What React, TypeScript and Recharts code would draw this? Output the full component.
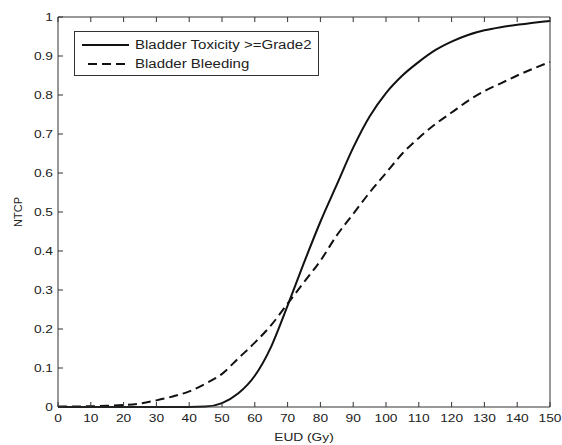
import { LineChart, Line, XAxis, YAxis, Label } from "recharts";

// EUD (Gy) sample points
const eud = [0, 5, 10, 15, 20, 25, 30, 35, 40, 45, 50, 55, 60, 65, 70, 75, 80, 85, 90, 95, 100, 105, 110, 115, 120, 125, 130, 135, 140, 145, 150];

// NTCP, bladder toxicity >= grade 2 (solid)
const toxicity = [0, 0, 0, 0, 0, 0, 0, 0, 0, 0.001, 0.01, 0.035, 0.08, 0.155, 0.26, 0.37, 0.475, 0.57, 0.665, 0.745, 0.805, 0.85, 0.885, 0.915, 0.937, 0.954, 0.966, 0.974, 0.98, 0.985, 0.99];

// NTCP, bladder bleeding (dashed)
const bleeding = [0.001, 0.001, 0.002, 0.003, 0.005, 0.009, 0.017, 0.027, 0.04, 0.06, 0.085, 0.125, 0.165, 0.21, 0.265, 0.32, 0.375, 0.44, 0.495, 0.55, 0.6, 0.65, 0.69, 0.725, 0.755, 0.785, 0.81, 0.83, 0.85, 0.868, 0.885];

const xTicks = [0, 10, 20, 30, 40, 50, 60, 70, 80, 90, 100, 110, 120, 130, 140, 150];
const yTicks = [0, 0.1, 0.2, 0.3, 0.4, 0.5, 0.6, 0.7, 0.8, 0.9, 1];

const data = eud.map((x, i) => ({ x, tox: toxicity[i], bleed: bleeding[i] }));

const FONT = "'Liberation Sans', Arial, sans-serif";
const INK = "#222";
const AXIS = "#333";
const TL = 5;
const SX = 1.25; // source image text is a bit stretched horizontally

const fmtY = (v: number) => (v === 0 || v === 1 ? String(v) : v.toFixed(1));

const Txt = ({ x, y, anchor = "middle", rotate = 0, children }: any) => (
  <text
    transform={`translate(${x},${y}) rotate(${rotate}) scale(${SX},1)`}
    textAnchor={anchor}
    fontSize={11}
    fontFamily={FONT}
    fill={INK}
  >
    {children}
  </text>
);

// ticks point inward, labels sit outside the frame
const BottomTick = ({ x, y, payload }: any) => (
  <g>
    <line x1={x} y1={y} x2={x} y2={y - TL} stroke={AXIS} />
    <Txt x={x} y={y + 15}>{payload.value}</Txt>
  </g>
);

const TopTick = ({ x, y }: any) => <line x1={x} y1={y} x2={x} y2={y + TL} stroke={AXIS} />;

const LeftTick = ({ x, y, payload }: any) => (
  <g>
    <line x1={x} y1={y} x2={x + TL} y2={y} stroke={AXIS} />
    <Txt x={x - 5} y={y + 4} anchor="end">{fmtY(payload.value)}</Txt>
  </g>
);

const RightTick = ({ x, y }: any) => <line x1={x} y1={y} x2={x - TL} y2={y} stroke={AXIS} />;

const legendText = {
  display: "inline-block",
  marginLeft: 5,
  transform: `scaleX(${SX})`,
  transformOrigin: "left center",
  whiteSpace: "nowrap" as const,
};

const LegendBox = () => (
  <div
    style={{
      position: "absolute",
      left: 74,
      top: 31,
      border: `1px solid ${AXIS}`,
      background: "#fff",
      width: 245,
      height: 45,
      boxSizing: "border-box",
      padding: "3px 0 0 7px",
      fontFamily: FONT,
      fontSize: 12,
      color: INK,
    }}
  >
    <div style={{ display: "flex", alignItems: "center", height: 19 }}>
      <svg width={48} height={6}>
        <line x1={0} y1={3} x2={47} y2={3} stroke="#111" strokeWidth={2} />
      </svg>
      <span style={legendText}>Bladder Toxicity &gt;=Grade2</span>
    </div>
    <div style={{ display: "flex", alignItems: "center", height: 19 }}>
      <svg width={48} height={6}>
        <line x1={6} y1={3} x2={47} y2={3} stroke="#111" strokeWidth={2} strokeDasharray="9 5" />
      </svg>
      <span style={legendText}>Bladder Bleeding</span>
    </div>
  </div>
);

export default function App() {
  return (
    <div style={{ position: "absolute", left: 0, top: 0, width: 562, height: 445, background: "#fff" }}>
      <LineChart width={562} height={445} data={data} margin={{ top: 16, right: 11, left: 8, bottom: 8 }}>
        <XAxis
          xAxisId="bottom"
          dataKey="x"
          type="number"
          domain={[0, 150]}
          ticks={xTicks}
          height={30}
          tickSize={0}
          tickMargin={0}
          tickLine={false}
          stroke={AXIS}
          tick={<BottomTick />}
          interval={0}
        >
          <Label
            content={({ viewBox }: any) => (
              <Txt x={viewBox.x + viewBox.width / 2} y={viewBox.y + 34}>
                EUD (Gy)
              </Txt>
            )}
          />
        </XAxis>
        <XAxis
          xAxisId="top"
          orientation="top"
          dataKey="x"
          type="number"
          domain={[0, 150]}
          ticks={xTicks}
          height={1}
          tickSize={0}
          tickMargin={0}
          tickLine={false}
          stroke={AXIS}
          tick={<TopTick />}
          interval={0}
        />
        <YAxis
          yAxisId="left"
          type="number"
          domain={[0, 1]}
          ticks={yTicks}
          width={50}
          tickSize={0}
          tickMargin={0}
          tickLine={false}
          stroke={AXIS}
          tick={<LeftTick />}
          interval={0}
        >
          <Label
            content={({ viewBox }: any) => (
              <text
                transform={`translate(22,${viewBox.y + viewBox.height / 2}) rotate(-90) scale(1,1)`}
                textAnchor="middle"
                fontSize={11}
                fontFamily={FONT}
                fill={INK}
              >
                NTCP
              </text>
            )}
          />
        </YAxis>
        <YAxis
          yAxisId="right"
          orientation="right"
          type="number"
          domain={[0, 1]}
          ticks={yTicks}
          width={1}
          tickSize={0}
          tickMargin={0}
          tickLine={false}
          stroke={AXIS}
          tick={<RightTick />}
          interval={0}
        />
        <Line
          xAxisId="bottom"
          yAxisId="left"
          dataKey="tox"
          name="Bladder Toxicity >=Grade2"
          type="monotone"
          stroke="#111"
          strokeWidth={2}
          dot={false}
          isAnimationActive={false}
        />
        <Line
          xAxisId="bottom"
          yAxisId="left"
          dataKey="bleed"
          name="Bladder Bleeding"
          type="monotone"
          stroke="#111"
          strokeWidth={2}
          strokeDasharray="9 5"
          dot={false}
          isAnimationActive={false}
        />
      </LineChart>
      <LegendBox />
    </div>
  );
}
